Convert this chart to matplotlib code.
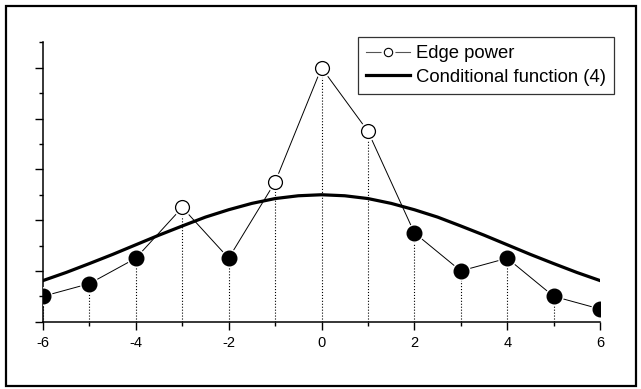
import matplotlib
matplotlib.use("Agg")
import matplotlib.pyplot as plt
from matplotlib.lines import Line2D
from matplotlib.patches import Rectangle
from matplotlib.ticker import MultipleLocator
from matplotlib.legend_handler import HandlerTuple

plt.rcParams['font.family'] = ['Liberation Sans', 'DejaVu Sans']

# Edge power samples
x_pts = [-6, -5, -4, -3, -2, -1, 0, 1, 2, 3, 4, 5, 6]
edge_power = [1.0, 1.5, 2.5, 4.5, 2.5, 5.5, 10.0, 7.5, 3.5, 2.0, 2.5, 1.0, 0.5]
# points above the conditional curve are drawn open
is_open = [False, False, False, True, False, True, True, True, False, False, False, False, False]

# Conditional function (4), read at half-unit steps
x_curve = [-6, -5.5, -5, -4.5, -4, -3.5, -3, -2.5, -2, -1.5, -1, -0.5, 0,
           0.5, 1, 1.5, 2, 2.5, 3, 3.5, 4, 4.5, 5, 5.5, 6]
cond_func = [1.62, 1.94, 2.29, 2.65, 3.03, 3.41, 3.77, 4.12, 4.41, 4.66, 4.85, 4.96, 5.00,
             4.96, 4.85, 4.66, 4.41, 4.12, 3.77, 3.41, 3.03, 2.65, 2.29, 1.94, 1.62]

x_ticks = [-6, -4, -2, 0, 2, 4, 6]

fig = plt.figure(figsize=(6.41, 3.89), dpi=100)
ax = fig.add_axes([0.0671, 0.173, 0.869, 0.718])

# drop lines
ax.vlines(x_pts, 0, edge_power, colors='k', linestyles=':', linewidth=0.8, zorder=1)
# connecting line
ax.plot(x_pts, edge_power, color='k', linewidth=0.7, zorder=2)
# conditional function
ax.plot(x_curve, cond_func, color='k', linewidth=2.3, zorder=3)

# white halo, then markers
ax.plot(x_pts, edge_power, linestyle='none', marker='o', markersize=12.5,
        markerfacecolor='white', markeredgecolor='white', zorder=4)
xo = [x for x, o in zip(x_pts, is_open) if o]
yo = [y for y, o in zip(edge_power, is_open) if o]
xf = [x for x, o in zip(x_pts, is_open) if not o]
yf = [y for y, o in zip(edge_power, is_open) if not o]
ax.plot(xf, yf, linestyle='none', marker='o', markersize=10.5,
        markerfacecolor='k', markeredgecolor='k', zorder=5)
ax.plot(xo, yo, linestyle='none', marker='o', markersize=10,
        markerfacecolor='white', markeredgecolor='k', markeredgewidth=0.9, zorder=5)

ax.set_xlim(-6, 6)
ax.set_ylim(0, 11)
ax.set_xticks(x_ticks)
ax.set_xticklabels([str(t) for t in x_ticks])
ax.xaxis.set_minor_locator(MultipleLocator(1))
ax.yaxis.set_major_locator(MultipleLocator(2))
ax.yaxis.set_minor_locator(MultipleLocator(1))
ax.set_yticklabels([])
ax.tick_params(which='major', direction='out', length=5.5, width=1.0, labelsize=10.5, pad=5)
ax.tick_params(which='minor', direction='out', length=3, width=1.0)
for s in ['top', 'right']:
    ax.spines[s].set_visible(False)
for s in ['left', 'bottom']:
    ax.spines[s].set_linewidth(1.1)

edge_line = Line2D([], [], color='#555555', linewidth=0.8)
edge_halo = Line2D([], [], linestyle='none', marker='o', markersize=9,
                   markerfacecolor='white', markeredgecolor='white')
edge_mark = Line2D([], [], linestyle='none', marker='o', markersize=6,
                   markerfacecolor='white', markeredgecolor='k', markeredgewidth=0.8)
cond_line = Line2D([], [], color='k', linewidth=2.3)
leg = fig.legend([(edge_line, edge_halo, edge_mark), cond_line],
                 ['Edge power', 'Conditional function (4)'],
                 handler_map={tuple: HandlerTuple(ndivide=1, pad=0)},
                 loc='upper right', bbox_to_anchor=(614 / 641, 1 - 37 / 389),
                 bbox_transform=fig.transFigure, fontsize=13.3, frameon=True,
                 fancybox=False, handlelength=2.4, handletextpad=0.3,
                 labelspacing=0.35, borderpad=0.45, borderaxespad=0)
leg.get_frame().set_edgecolor('k')
leg.get_frame().set_linewidth(0.9)

# outer border
fig.patches.append(Rectangle((6 / 641, 3 / 389), 630 / 641, 380 / 389,
                             transform=fig.transFigure, fill=False,
                             edgecolor='k', linewidth=1.6))

fig.savefig('out.png', dpi=100)
